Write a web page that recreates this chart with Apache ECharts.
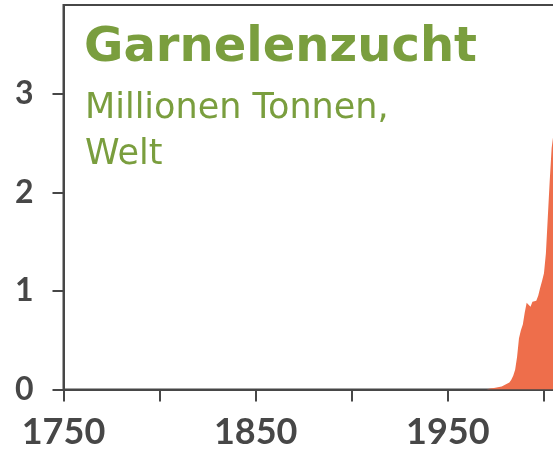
<!DOCTYPE html>
<html>
<head>
<meta charset="utf-8">
<script src="https://cdn.jsdelivr.net/npm/echarts@6/dist/echarts.min.js"></script>
<style>
  html, body { margin: 0; padding: 0; background: #fff; }
  #chart { width: 553px; height: 452px; }
</style>
</head>
<body>
<div id="chart"></div>
<script>
// Shrimp farming output, world, million tonnes per year
const years = [1970, 1971, 1972, 1973, 1974, 1975, 1976, 1977, 1978, 1979,
               1980, 1981, 1982, 1983, 1984, 1985, 1986, 1987, 1988, 1989,
               1990, 1991, 1992, 1993, 1994, 1995, 1996, 1997, 1998, 1999,
               2000, 2001, 2002, 2003, 2004, 2005];
const tonnes = [0, 0.005, 0.01, 0.012, 0.015, 0.018, 0.022, 0.026, 0.03, 0.04,
                0.05, 0.06, 0.07, 0.1, 0.14, 0.2, 0.33, 0.52, 0.6, 0.66,
                0.78, 0.88, 0.87, 0.84, 0.89, 0.91, 0.9, 0.95, 1.03, 1.1,
                1.18, 1.38, 1.75, 2.12, 2.45, 2.6];
const yTicks = [0, 1, 2, 3];
const xLabels = [1750, 1850, 1950];

const INK = '#474747';
const GREEN = '#7a9e3e';

const chart = echarts.init(document.getElementById('chart'), null, { renderer: 'canvas' });
chart.setOption({
  animation: false,
  backgroundColor: '#fff',
  title: [
    {
      text: 'Garnelenzucht',
      left: 79, top: 20,
      textStyle: { color: GREEN, fontFamily: 'DejaVu Sans', fontWeight: 700, fontSize: 48 }
    },
    {
      text: 'Millionen Tonnen,\nWelt',
      left: 80, top: 81,
      textStyle: { color: GREEN, fontFamily: 'DejaVu Sans', fontWeight: 400, fontSize: 35, lineHeight: 46 }
    }
  ],
  grid: {
    left: 63.5, top: 5, right: -29.4, bottom: 62.5,
    outerBoundsMode: 'none',
    show: true, borderColor: INK, borderWidth: 2, backgroundColor: 'transparent'
  },
  xAxis: {
    type: 'value', min: 1750, max: 2020, interval: 50,
    axisLine: { show: true, lineStyle: { color: INK, width: 2 } },
    axisTick: { show: true, length: 12, lineStyle: { color: INK, width: 2 } },
    splitLine: { show: false },
    axisLabel: {
      margin: 25, color: INK, fontFamily: 'Lato', fontWeight: 700, fontSize: 36,
      formatter: v => xLabels.includes(v) ? String(v) : ''
    }
  },
  yAxis: {
    type: 'value', min: 0, max: 3.9, interval: 1,
    axisLine: { show: true, lineStyle: { color: INK, width: 2 } },
    axisTick: { show: true, length: 11, lineStyle: { color: INK, width: 2 } },
    splitLine: { show: false },
    axisLabel: {
      margin: 30, color: INK, fontFamily: 'Lato', fontWeight: 700, fontSize: 32,
      showMaxLabel: false,
      formatter: v => yTicks.includes(v) ? String(v) : ''
    }
  },
  series: [{
    type: 'line',
    data: years.map((y, i) => [y, tonnes[i]]),
    showSymbol: false,
    lineStyle: { width: 0 },
    areaStyle: { color: '#ee6e4b', opacity: 1 },
    z: 1
  }]
});
</script>
</body>
</html>
